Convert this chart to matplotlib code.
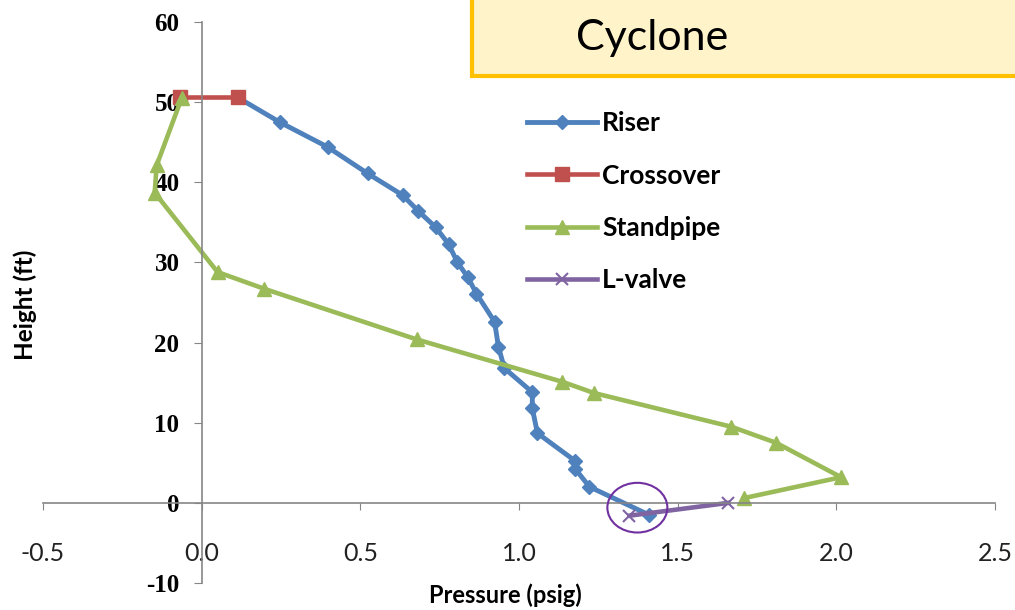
import matplotlib
matplotlib.use("Agg")
import matplotlib.pyplot as plt
from matplotlib.patches import Ellipse, Rectangle

# ---------------------------------------------------------------------------
# Data (pressure in psig, height in ft)
# ---------------------------------------------------------------------------
riser_p = [0.113, 0.246, 0.397, 0.523, 0.633, 0.683, 0.737, 0.778, 0.806,
           0.838, 0.866, 0.923, 0.935, 0.954, 1.042, 1.042, 1.058, 1.178,
           1.178, 1.222, 1.41]
riser_h = [50.6, 47.5, 44.4, 41.1, 38.4, 36.4, 34.4, 32.3, 30.0,
           28.2, 26.1, 22.6, 19.5, 16.8, 13.8, 11.8, 8.7, 5.2,
           4.2, 2.0, -1.5]

crossover_p = [-0.069, 0.113]
crossover_h = [50.6, 50.6]

standpipe_p = [-0.063, -0.142, -0.148, 0.050, 0.198, 0.677, 1.137, 1.237,
               1.669, 1.810, 2.015, 1.710]
standpipe_h = [50.5, 42.1, 38.7, 28.8, 26.7, 20.4, 15.1, 13.7,
               9.5, 7.5, 3.2, 0.6]

lvalve_p = [1.348, 1.66]
lvalve_h = [-1.6, 0.0]

x_ticks = [-0.5, 0.0, 0.5, 1.0, 1.5, 2.0, 2.5]
y_ticks = [-10, 0, 10, 20, 30, 40, 50, 60]

BLUE = "#4F81BD"
RED = "#C0504D"
GREEN = "#9BBB59"
PURPLE = "#8064A2"

W, H = 1015, 610
fig = plt.figure(figsize=(W / 100, H / 100), dpi=100)
ax = fig.add_axes([43 / W, 1 - 583 / H, (995 - 43) / W, (583 - 22) / H])

ax.plot(riser_p, riser_h, color=BLUE, lw=3.5, marker="D", ms=7, label="Riser")
ax.plot(crossover_p, crossover_h, color=RED, lw=3.3, marker="s", ms=10,
        label="Crossover")
ax.plot(standpipe_p, standpipe_h, color=GREEN, lw=3.3, marker="^", ms=10,
        label="Standpipe")
ax.plot(lvalve_p, lvalve_h, color=PURPLE, lw=3.3, marker="x", ms=9, mew=1.5,
        label="L-valve")

# highlight circle around the riser / L-valve junction
ax.add_patch(Ellipse((1.373, -0.6), 0.189, 6.2, fill=False,
                     edgecolor="#7030A0", lw=1.5, zorder=5))

ax.set_xlim(-0.5, 2.5)
ax.set_ylim(-10, 60)
ax.set_xticks(x_ticks)
ax.set_xticklabels([f"{v:.1f}" for v in x_ticks])
ax.set_yticks(y_ticks)
ax.set_yticklabels([str(v) for v in y_ticks])

for side in ("top", "right"):
    ax.spines[side].set_visible(False)
ax.spines["left"].set_position(("data", 0))
ax.spines["bottom"].set_position(("data", 0))
for side in ("left", "bottom"):
    ax.spines[side].set_color("#868686")
    ax.spines[side].set_linewidth(1.2)
ax.tick_params(axis="x", direction="out", length=5, color="#868686", pad=23,
               labelsize=18, labelcolor="#222222")
ax.tick_params(axis="y", direction="out", length=6, color="#868686", pad=10,
               labelsize=18)
for lbl in ax.get_xticklabels():
    lbl.set_fontfamily("Lato")
for lbl in ax.get_yticklabels():
    lbl.set_fontfamily("Liberation Serif")
    lbl.set_fontweight("bold")
ax.patch.set_visible(False)

fig.text(25 / W, 1 - 305 / H, "Height (ft)", rotation=90, ha="center",
         va="center", fontfamily="Lato", fontweight="bold", fontsize=17.5)
fig.text(505 / W, 1 - 595 / H, "Pressure (psig)", ha="center", va="center",
         fontfamily="Lato", fontweight="bold", fontsize=17)

leg = ax.legend(loc="upper left", bbox_to_anchor=(527 / W, 1 - 111 / H),
                bbox_transform=fig.transFigure, frameon=False,
                borderpad=0, borderaxespad=0, handlelength=2.65,
                handletextpad=0.2, labelspacing=1.08,
                prop={"family": "Lato", "weight": "bold", "size": 19})

# "Cyclone" banner at the top right
fig.patches.append(Rectangle((472 / W, 1 - 76 / H), 0.6, 0.2,
                             transform=fig.transFigure, facecolor="#FFF4C9",
                             edgecolor="#FFC000", lw=3, clip_on=False))
fig.text(652 / W, 1 - 38 / H, "Cyclone", ha="center", va="center",
         fontfamily="Lato", fontsize=31)

fig.savefig("out.png", dpi=100)
